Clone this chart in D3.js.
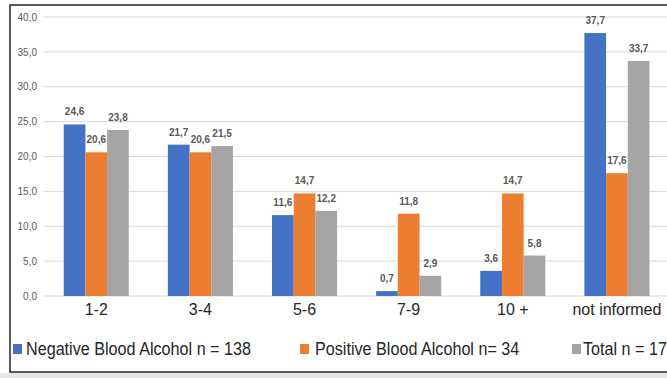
<!DOCTYPE html>
<html>
<head>
<meta charset="utf-8">
<script src="https://cdn.jsdelivr.net/npm/d3@7"></script>
<style>
  html, body { margin: 0; padding: 0; background: #fff; }
  svg { display: block; font-family: "Liberation Sans", Arial, sans-serif; }
</style>
</head>
<body>
<svg id="chart" width="667" height="378"></svg>
<script>
// Age groups and percentage per group for each series
const categories = ["1-2", "3-4", "5-6", "7-9", "10 +", "not informed"];
const seriesNames = ["Negative Blood Alcohol n = 138", "Positive Blood Alcohol n= 34", "Total n = 172"];
const negativeValues = [24.6, 21.7, 11.6, 0.7, 3.6, 37.7];
const positiveValues = [20.6, 20.6, 14.7, 11.8, 14.7, 17.6];
const totalValues = [23.8, 21.5, 12.2, 2.9, 5.8, 33.7];
const yTicks = [0, 5, 10, 15, 20, 25, 30, 35, 40];
const colors = ["#4472C4", "#ED7D31", "#A5A5A5"];

const series = [negativeValues, positiveValues, totalValues];
const fmt = v => v.toFixed(1).replace(".", ",");

const svg = d3.select("#chart");
const W = 667, H = 378;

// light strip below the frame
svg.append("rect").attr("x", 0).attr("y", 373).attr("width", W).attr("height", 5).attr("fill", "#e6e6e6");

// frame
svg.append("rect").attr("x", 10).attr("y", 5).attr("width", 700).attr("height", 367)
  .attr("fill", "#fff").attr("stroke", "#262626").attr("stroke-width", 1.5);

const plotLeft = 44.2, plotRight = 669, y0 = 296, yTop = 17;

const x = d3.scaleBand().domain(categories).range([plotLeft, plotRight]).paddingInner(0.375).paddingOuter(0.1875);
const xs = d3.scaleBand().domain(d3.range(series.length)).range([0, x.bandwidth()]);
const y = d3.scaleLinear().domain([0, 40]).range([y0, yTop]);

// gridlines
svg.append("g").selectAll("line").data(yTicks).join("line")
  .attr("x1", plotLeft).attr("x2", W)
  .attr("y1", d => y(d)).attr("y2", d => y(d))
  .attr("stroke", "#d9d9d9").attr("stroke-width", 1);

// y axis labels
const yAxis = d3.axisLeft(y).tickValues(yTicks).tickFormat(fmt).tickSize(0).tickPadding(0);
const yg = svg.append("g").attr("transform", `translate(37,0)`).call(yAxis);
yg.select(".domain").remove();
yg.selectAll("text").attr("fill", "#595959").attr("font-size", 10).attr("font-family", "Liberation Sans, Arial, sans-serif");

// bars
const groups = svg.append("g").selectAll("g").data(categories).join("g")
  .attr("transform", d => `translate(${x(d)},0)`);

groups.each(function(cat, ci) {
  const g = d3.select(this);
  series.forEach((vals, si) => {
    const v = vals[ci];
    g.append("rect")
      .attr("x", xs(si)).attr("width", xs.bandwidth())
      .attr("y", y(v)).attr("height", y0 - y(v))
      .attr("fill", colors[si]);
    g.append("text")
      .attr("x", xs(si) + xs.bandwidth() / 2)
      .attr("y", y(v) - 9)
      .attr("text-anchor", "middle")
      .attr("font-size", 10).attr("font-weight", "bold")
      .attr("fill", "#595959")
      .text(fmt(v));
  });
});

// x axis labels
const xAxis = d3.axisBottom(x).tickSize(0).tickPadding(0);
const xg = svg.append("g").attr("transform", `translate(0,${y0 + 19})`).call(xAxis);
xg.select(".domain").remove();
xg.selectAll("text").attr("fill", "#262626").attr("font-size", 16).attr("dy", 0)
  .attr("font-family", "Liberation Sans, Arial, sans-serif");

// legend (narrow lettering: text drawn tall, then squeezed to width)
const legendX = [13, 300, 572];
const legend = svg.append("g").selectAll("g").data(seriesNames).join("g")
  .attr("transform", (d, i) => `translate(${legendX[i]},344)`);
legend.append("rect").attr("width", 9).attr("height", 10).attr("fill", (d, i) => colors[i]);
const legendText = legend.append("text").attr("x", (d, i) => i === 2 ? 11 : (i === 0 ? 13 : 15)).attr("y", 11)
  .attr("font-size", 17.5).attr("fill", "#262626")
  .text(d => d);
const natural = legendText.nodes()[0].getComputedTextLength();
const squeeze = 225 / natural;
legendText.each(function() {
  const w = this.getComputedTextLength() * squeeze;
  d3.select(this).attr("textLength", w).attr("lengthAdjust", "spacingAndGlyphs");
});
</script>
</body>
</html>
